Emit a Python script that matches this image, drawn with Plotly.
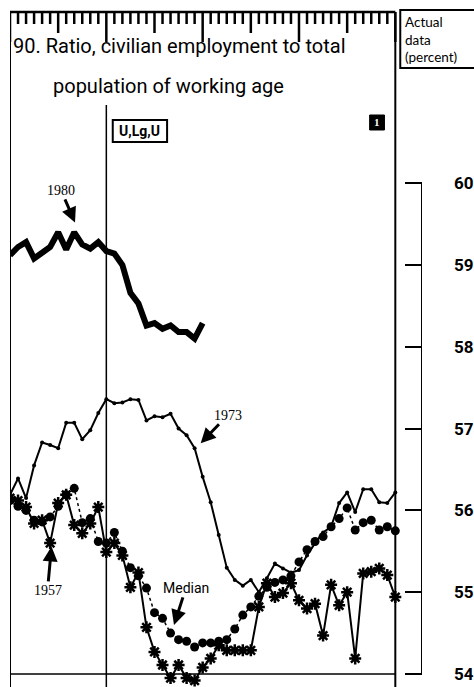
import plotly.graph_objects as go

# Months relative to the reference peak (T = 0)
months = list(range(-12, 37))
months_1980 = list(range(-12, 13))

ratio_1980 = [59.12, 59.22, 59.28, 59.08, 59.15, 59.22, 59.40, 59.19, 59.40, 59.25,
              59.20, 59.28, 59.17, 59.14, 59.00, 58.66, 58.53, 58.26, 58.29, 58.22,
              58.26, 58.18, 58.18, 58.10, 58.29]

ratio_1973 = [56.19, 56.39, 56.15, 56.55, 56.83, 56.80, 56.76, 57.07, 57.07, 56.87,
              56.98, 57.19, 57.36, 57.31, 57.32, 57.36, 57.35, 57.10, 57.15, 57.14,
              57.18, 57.00, 56.92, 56.76, 56.41, 56.10, 55.70, 55.30, 55.15, 55.08,
              55.15, 55.00, 55.17, 55.35, 55.29, 55.24, 55.27, 55.45, 55.60, 55.73,
              55.80, 56.09, 56.22, 55.98, 56.26, 56.26, 56.10, 56.09, 56.22]

ratio_1957 = [56.15, 56.12, 56.04, 55.84, 55.88, 55.60, 56.09, 56.19, 55.82, 55.72,
              55.84, 56.04, 55.49, 55.60, 55.45, 55.06, 55.24, 54.57, 54.27, 54.11,
              53.95, 54.11, 53.95, 53.92, 54.08, 54.19, 54.35, 54.29, 54.29, 54.29,
              54.29, 54.82, 55.11, 54.94, 54.99, 55.11, 54.90, 54.80, 54.86, 54.47,
              55.09, 54.84, 55.00, 54.19, 55.23, 55.25, 55.29, 55.21, 54.94]

ratio_median = [56.12, 56.05, 56.00, 55.88, 55.86, 55.92, 56.05, 56.19, 56.27, 55.85,
                55.90, 55.62, 55.60, 55.73, 55.50, 55.30, 55.20, 55.05, 54.75, 54.68,
                54.50, 54.42, 54.40, 54.33, 54.38, 54.38, 54.40, 54.42, 54.55, 54.72,
                54.82, 54.95, 55.06, 55.12, 55.15, 55.20, 55.37, 55.52, 55.62, 55.68,
                55.80, 55.90, 56.03, 55.76, 55.85, 55.88, 55.76, 55.80, 55.75]

y_ticks = [54, 55, 56, 57, 58, 59, 60]

W, H = 474, 687
ML, MR, MT, MB = 10, 47, 12, 0
PX_PER_MONTH = 8.125
PLOT_H = H - MT - MB
X_MIN = -12
X_MAX = X_MIN + (W - ML - MR) / PX_PER_MONTH
Y_MIN, Y_MAX = 53.841, 53.841 + PLOT_H / 81.8
AXIS_X = X_MAX  # bracket scale sits on the right edge of the plot area

NARROW = "Roboto, Liberation Sans, sans-serif"
SERIF = "Liberation Serif, DejaVu Serif, serif"


def py(pix):
    """Pixel row -> paper y."""
    return 1 - (pix - MT) / PLOT_H


def px(pix):
    """Pixel column -> paper x."""
    return (pix - ML) / (W - ML - MR)


fig = go.Figure()

fig.add_trace(go.Scatter(
    x=months, y=ratio_median, mode="lines+markers", name="Median",
    line=dict(color="black", width=1.5, dash="dot"),
    marker=dict(symbol="circle", size=9, color="black")))

fig.add_trace(go.Scatter(
    x=months, y=ratio_1957, mode="lines+markers", name="1957",
    line=dict(color="black", width=2),
    marker=dict(symbol="asterisk-open", size=10, color="black",
                line=dict(color="black", width=2.5))))

fig.add_trace(go.Scatter(
    x=months, y=ratio_1973, mode="lines+markers", name="1973",
    line=dict(color="black", width=2),
    marker=dict(symbol="circle", size=4, color="black")))

fig.add_trace(go.Scatter(
    x=months_1980, y=ratio_1980, mode="lines", name="1980",
    line=dict(color="black", width=6)))

shapes = []
# frame: left and right borders, bottom rule at 54
for m in (-12, 36):
    shapes.append(dict(type="line", xref="x", yref="paper", x0=m, x1=m, y0=0, y1=1,
                       line=dict(color="black", width=2)))
shapes.append(dict(type="line", xref="x", yref="y", x0=-12, x1=36, y0=54, y1=54,
                   line=dict(color="black", width=1.5)))
# peak line at T
shapes.append(dict(type="line", xref="x", yref="paper", x0=0, x1=0, y0=0, y1=py(105),
                   line=dict(color="black", width=1.5)))
# month ruler along the top
shapes.append(dict(type="line", xref="x", yref="paper", x0=-12, x1=36, y0=1, y1=1,
                   line=dict(color="black", width=2.5)))
for m in months:
    if m % 12 == 0:
        ln = 30
    elif m % 6 == 0:
        ln = 21
    else:
        ln = 12
    shapes.append(dict(type="line", xref="x", yref="paper", x0=m, x1=m,
                       y0=1, y1=py(MT + ln), line=dict(color="black", width=2.5)))
# right-hand scale bracket
shapes.append(dict(type="line", xref="x", yref="y", x0=AXIS_X, x1=AXIS_X, y0=54, y1=60,
                   line=dict(color="black", width=2)))
# "Actual data" box
shapes.append(dict(type="rect", xref="paper", yref="paper",
                   x0=px(405), x1=px(490), y0=py(68), y1=py(10),
                   line=dict(color="black", width=2)))
# "U,Lg,U" box
shapes.append(dict(type="rect", xref="paper", yref="paper",
                   x0=px(114), x1=px(169), y0=py(142), y1=py(120),
                   line=dict(color="black", width=2)))
# filled square behind the "1"
shapes.append(dict(type="rect", xref="paper", yref="paper",
                   x0=px(374), x1=px(389), y0=py(130), y1=py(115),
                   line=dict(color="black", width=1), fillcolor="black"))

annotations = [
    dict(text="90. Ratio, civilian employment to total", xref="paper", yref="paper",
         x=px(11), y=py(46), xanchor="left", yanchor="middle", showarrow=False,
         font=dict(family=NARROW, size=20, color="black")),
    dict(text="population of working age", xref="paper", yref="paper",
         x=px(52), y=py(86), xanchor="left", yanchor="middle", showarrow=False,
         font=dict(family=NARROW, size=20, color="black")),
    dict(text="Actual<br>data<br>(percent)", xref="paper", yref="paper",
         x=px(408), y=py(12), xanchor="left", yanchor="top", align="left",
         showarrow=False, font=dict(family="Lato, DejaVu Sans, sans-serif", size=13.5, color="black")),
    dict(text="U,Lg,U", xref="paper", yref="paper",
         x=px(141.5), y=py(131), xanchor="center", yanchor="middle", showarrow=False,
         font=dict(family=NARROW, size=14, color="black", weight="bold")),
    dict(text="1", xref="paper", yref="paper",
         x=px(381.5), y=py(122.5), xanchor="center", yanchor="middle", showarrow=False,
         font=dict(family=SERIF, size=11, color="white", weight="bold")),
    dict(text="1980", x=-3.9, y=59.52, ax=-14, ay=-32, showarrow=True,
         arrowhead=2, arrowsize=1, arrowwidth=3, arrowcolor="black",
         font=dict(family=SERIF, size=14, color="black")),
    dict(text="1973", x=11.75, y=56.82, ax=27, ay=-28, showarrow=True,
         arrowhead=2, arrowsize=1, arrowwidth=3, arrowcolor="black",
         font=dict(family=SERIF, size=14, color="black")),
    dict(text="1957", x=-6.83, y=55.56, ax=-4, ay=44, showarrow=True,
         arrowhead=2, arrowsize=1, arrowwidth=3, arrowcolor="black",
         font=dict(family=SERIF, size=14, color="black")),
    dict(text="Median", x=8.43, y=54.60, ax=12, ay=-37, showarrow=True,
         arrowhead=2, arrowsize=1, arrowwidth=3, arrowcolor="black",
         font=dict(family=NARROW, size=14, color="black")),
]

fig.update_layout(
    width=W, height=H,
    margin=dict(l=ML, r=MR, t=MT, b=MB, pad=0),
    paper_bgcolor="white", plot_bgcolor="white",
    showlegend=False,
    shapes=shapes, annotations=annotations,
    xaxis=dict(range=[X_MIN, X_MAX], visible=False, fixedrange=True),
    yaxis=dict(range=[Y_MIN, Y_MAX], side="right", showgrid=False, zeroline=False,
               showline=False, tickvals=y_ticks, ticks="inside", ticklen=17,
               tickwidth=2, tickcolor="black", ticklabelstandoff=31,
               tickfont=dict(family=NARROW, size=17, color="black", weight="bold"),
               fixedrange=True),
)

fig.write_html("out.html")
